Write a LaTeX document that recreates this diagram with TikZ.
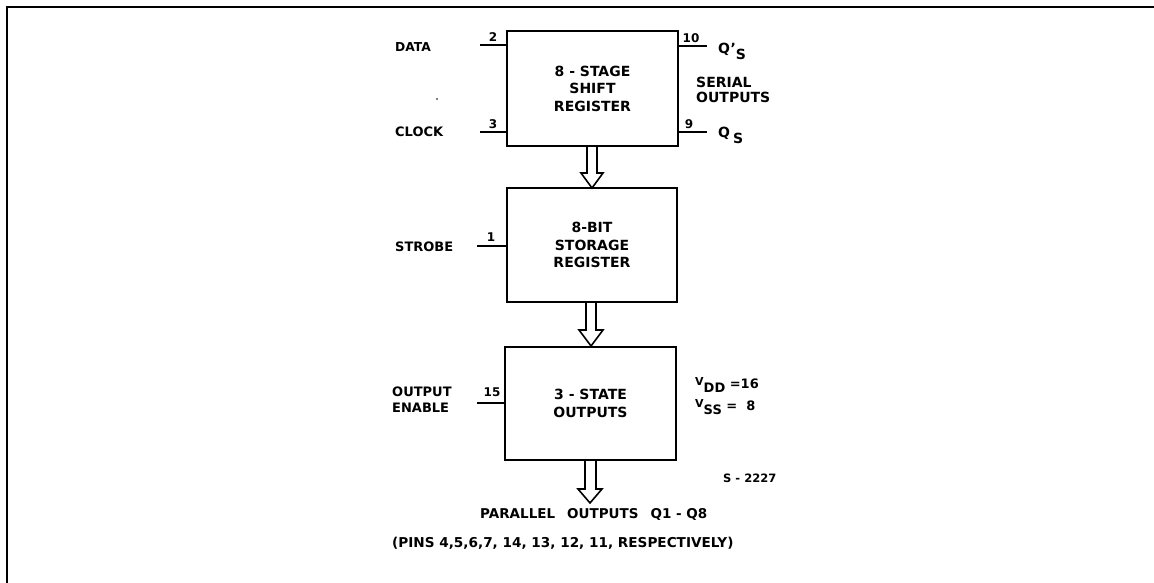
\documentclass[tikz,border=0pt]{standalone}
\usepackage{fontspec}
\setmainfont{DejaVu Sans}
\begin{document}
\begin{tikzpicture}[x=1pt,y=-1pt,
  blk/.style={draw,line width=2.8pt,inner sep=0pt,align=center,font=\fontsize{14}{17.5}\selectfont\bfseries},
  lbl/.style={inner sep=0pt,anchor=west,font=\txt},
  bl/.style={inner sep=0pt,anchor=base west,font=\fontsize{14}{16}\selectfont\bfseries},
  pinno/.style={inner sep=0pt,font=\fontsize{12}{14}\selectfont\bfseries},
  pinline/.style={line width=1.3pt},
  hollow/.style={draw,line width=1.6pt,line join=miter}]
\newcommand{\txt}{\fontsize{13}{16}\selectfont\bfseries}
\useasboundingbox (0,0) rectangle (1154,582);
\clip (0,0) rectangle (1154,582);
\draw[line width=2.2pt] (7,7) rectangle (1170,600);
% blocks
\node[blk,minimum width=171pt,minimum height=115pt] (b1) at (592.5,88.5) {8 - STAGE\\SHIFT\\REGISTER};
\node[blk,minimum width=170pt,minimum height=114pt] (b2) at (592,245) {8-BIT\\STORAGE\\REGISTER};
\node[blk,minimum width=171pt,minimum height=113pt] (b3) at (590.5,403.5) {3 - STATE\\OUTPUTS};
% hollow arrows
\path[hollow] (587,146) -- (587,173) -- (581,173) -- (592,188) -- (603,173) -- (597,173) -- (597,146);
\path[hollow] (586,302) -- (586,330) -- (579,330) -- (591,346) -- (603,330) -- (596,330) -- (596,302);
\path[hollow] (585,460) -- (585,489) -- (578,489) -- (590,503) -- (602,489) -- (596,489) -- (596,460);
% left pins
\coordinate (pdata) at (480,45);
\coordinate (pclock) at (480,132);
\coordinate (pstrobe) at (477,246);
\coordinate (poe) at (477,403);
\draw[pinline] (pdata) -- (pdata -| b1.west);
\draw[pinline] (pclock) -- (pclock -| b1.west);
\draw[pinline] (pstrobe) -- (pstrobe -| b2.west);
\draw[pinline] (poe) -- (poe -| b3.west);
\node[pinno] (n2) at (493,37) {2};
\node[pinno] (n3) at (493,124) {3};
\node[pinno] (n1) at (491,237) {1};
\node[pinno] (n15) at (492,392) {15};
\node[lbl,font=\fontsize{12.3}{15}\selectfont\bfseries] (data) at (395,47) {DATA};
\node[lbl] (clock) at (395,132) {CLOCK};
\node[lbl] (strobe) at (395,247) {STROBE};
\node[lbl,align=left] (oe) at (392,400) {OUTPUT\\ENABLE};
% right pins
\coordinate (pq1) at (707,46);
\coordinate (pq2) at (707,132);
\draw[pinline] (pq1 -| b1.east) -- (pq1);
\draw[pinline] (pq2 -| b1.east) -- (pq2);
\node[pinno] (n10) at (691,38) {10};
\node[pinno] (n9) at (689,124) {9};
\node[bl] (qs1) at (718,53) {Q\kern0.5pt'\raisebox{-6pt}{S}};
\node[bl] (qs2) at (718,137) {Q\kern3pt\raisebox{-6pt}{S}};
\node[lbl,align=left,font=\fontsize{14}{15.5}\selectfont\bfseries] (ser) at (696,90) {SERIAL\\OUTPUTS};
% supply
\node[bl,font=\fontsize{13}{15}\selectfont\bfseries] (vdd) at (695,388) {\raisebox{3pt}{\fontsize{11}{12}\selectfont V}\raisebox{-4pt}{DD} =16};
\node[bl,font=\fontsize{13}{15}\selectfont\bfseries] (vss) at (695,410) {\raisebox{3pt}{\fontsize{11}{12}\selectfont V}\raisebox{-4pt}{SS} =\ \ 8};
\node[lbl,font=\fontsize{11.5}{13}\selectfont\bfseries] (ref) at (723,478) {S - 2227};
\node[lbl,font=\fontsize{13.5}{16}\selectfont\bfseries] (par) at (480,514) {PARALLEL\hspace{12pt}OUTPUTS\hspace{12pt}Q1 - Q8};
\node[lbl,font=\fontsize{13.6}{16}\selectfont\bfseries] (pins) at (392,543) {(PINS 4,5,6,7, 14, 13, 12, 11, RESPECTIVELY)};
\fill (437,99) circle (0.9pt);
\end{tikzpicture}
\end{document}
